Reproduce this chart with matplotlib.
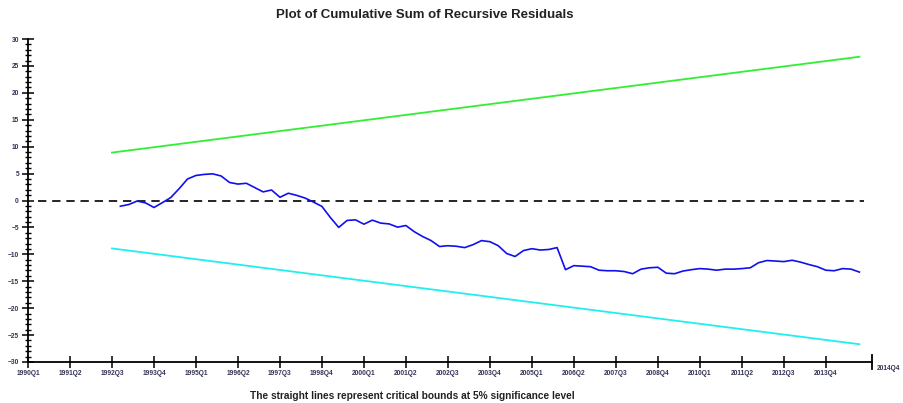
import numpy as np
import matplotlib
matplotlib.use("Agg")
import matplotlib.pyplot as plt
from matplotlib.ticker import MultipleLocator

# quarter index 0 = 1990Q1
tick_labels = ["1990Q1", "1991Q2", "1992Q3", "1993Q4", "1995Q1", "1996Q2", "1997Q3",
               "1998Q4", "2000Q1", "2001Q2", "2002Q3", "2003Q4", "2005Q1", "2006Q2",
               "2007Q3", "2008Q4", "2010Q1", "2011Q2", "2012Q3", "2013Q4"]
end_label = "2014Q4"

# critical bounds (straight lines), start/end quarter and values
bound_q = [10, 99]
upper_bound = [8.9, 26.7]
lower_bound = [-8.9, -26.7]

# cumulative sum of recursive residuals, first value at quarter 11
cusum_start = 11
cusum = [-1.06, -0.75, -0.1, -0.45, -1.3, -0.4, 0.55, 2.2, 4.0, 4.65,
         4.85, 4.95, 4.55, 3.35, 3.05, 3.2, 2.4, 1.6, 1.95, 0.6,
         1.35, 0.95, 0.45, -0.3, -1.1, -3.15, -5.0, -3.7, -3.6, -4.4,
         -3.65, -4.2, -4.35, -4.95, -4.65, -5.8, -6.7, -7.45, -8.55, -8.4,
         -8.5, -8.75, -8.2, -7.45, -7.65, -8.4, -9.85, -10.4, -9.3, -8.95,
         -9.2, -9.1, -8.75, -12.85, -12.1, -12.2, -12.3, -12.95, -13.05, -13.05,
         -13.2, -13.6, -12.75, -12.5, -12.4, -13.5, -13.6, -13.1, -12.85, -12.65,
         -12.75, -12.95, -12.75, -12.75, -12.65, -12.5, -11.55, -11.15, -11.25, -11.35,
         -11.1, -11.45, -11.9, -12.3, -12.95, -13.05, -12.65, -12.75, -13.3]

plt.rcParams['font.family'] = ['Liberation Sans', 'DejaVu Sans']

fig = plt.figure(figsize=(9.04, 4.03), dpi=100)
ax = fig.add_axes([28 / 904, 41 / 403, 844 / 904, 323 / 403])

x_end = 100.5
ax.axhline(0, xmin=0.012, xmax=0.99, color="black", lw=1.2, ls=(0, (5, 3.5)))
ax.plot(bound_q, upper_bound, color="#33ee33", lw=1.3)
ax.plot(bound_q, lower_bound, color="#22eeee", lw=1.3)
q = np.arange(cusum_start, cusum_start + len(cusum))
ax.plot(q, cusum, color="#1010ee", lw=1.2)

ax.set_xlim(0, x_end)
ax.set_ylim(-30, 30)
for s in ["top", "right"]:
    ax.spines[s].set_visible(False)
ax.spines["left"].set_linewidth(1.3)
ax.spines["bottom"].set_linewidth(1.3)

ax.set_xticks(np.arange(0, 5 * len(tick_labels), 5))
ax.set_xticklabels(tick_labels, fontsize=4.8, fontweight="bold", color="#333355")
ax.yaxis.set_major_locator(MultipleLocator(5))
ax.yaxis.set_minor_locator(MultipleLocator(1))
ax.tick_params(axis="both", which="major", direction="inout", length=9, width=1.1,
               labelsize=4.8, pad=2)
ax.tick_params(axis="y", which="minor", direction="inout", length=5, width=1)
ax.tick_params(axis="x", pad=1)
for lbl in ax.get_yticklabels():
    lbl.set_fontweight("bold")
    lbl.set_color("#333355")

# end marker and label of the x axis
ax.plot([x_end, x_end], [-31.3, -28.7], color="black", lw=1.3, clip_on=False)
ax.text(x_end + 0.6, -30.5, end_label, fontsize=4.8, fontweight="bold",
        color="#333355", ha="left", va="top")

fig.text(425 / 904, 1 - 15 / 403, "Plot of Cumulative Sum of Recursive Residuals",
         ha="center", va="center", fontsize=9.5, fontweight="bold", color="#222222")
fig.text(412 / 904, 1 - 396 / 403,
         "The straight lines represent critical bounds at 5% significance level",
         ha="center", va="center", fontsize=7.3, fontweight="bold", color="#222222")

fig.savefig("out.png", dpi=100)
